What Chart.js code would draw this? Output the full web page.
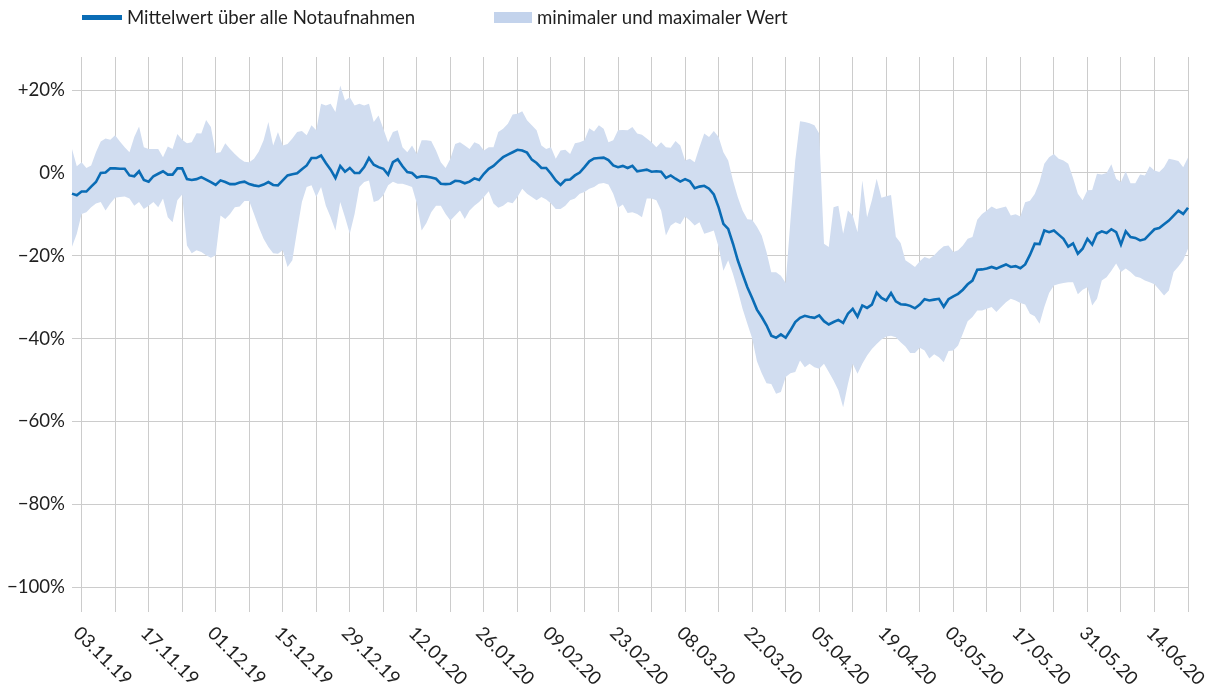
<!DOCTYPE html>
<html><head><meta charset="utf-8">
<script src="https://cdn.jsdelivr.net/npm/chart.js@4/dist/chart.umd.min.js"></script>
<style>html,body{margin:0;padding:0;background:#fff}#wrap{width:1212px;height:684px;position:relative}</style>
</head><body><div id="wrap"><canvas id="c" width="1212" height="684"></canvas></div>
<script>
// ---- data ----
const firstDay = new Date(2019, 10, 1); // 01.11.19
const dayCount = 234;                  // up to 21.06.20
const categories = [];
for (let i = 0; i < dayCount; i++) {
  const d = new Date(firstDay.getFullYear(), firstDay.getMonth(), firstDay.getDate() + i);
  categories.push(String(d.getDate()).padStart(2, '0') + '.' + String(d.getMonth() + 1).padStart(2, '0') + '.' + String(d.getFullYear()).slice(2));
}
const tickLabels = ['03.11.19','17.11.19','01.12.19','15.12.19','29.12.19','12.01.20','26.01.20','09.02.20','23.02.20','08.03.20','22.03.20','05.04.20','19.04.20','03.05.20','17.05.20','31.05.20','14.06.20'];
const yTicks = [20, 0, -20, -40, -60, -80, -100];

const meanValues = [
-5.0,-5.4,-4.5,-4.5,-3.3,-2.2,0,0.1,1.1,1.1,1.0,1.0,-0.6,-0.8,0.4,-1.7,-2.1,-0.8,-0.2,0.4,
-0.4,-0.4,1.1,1.1,-1.5,-1.7,-1.5,-1.0,-1.6,-2.2,-2.9,-1.8,-2.2,-2.7,-2.7,-2.3,-2.1,-2.7,
-3.0,-3.2,-2.8,-2.2,-2.9,-3.0,-1.8,-0.6,-0.3,-0.1,0.9,1.8,3.6,3.6,4.2,2.4,0.8,-1.2,1.7,0.3,
1.2,0,0,1.4,3.6,2.0,1.4,1.0,-0.4,2.6,3.3,1.6,0.2,0,-1.1,-0.8,-0.9,
-1.1,-1.4,-2.6,-2.7,-2.6,-1.9,-2.0,-2.5,-2.1,-1.3,-1.7,-0.2,1.0,1.7,2.8,3.8,4.4,5.0,5.6,5.4,
4.9,3.2,2.4,1.2,1.2,-0.2,-1.8,-2.9,-1.7,-1.6,-0.6,0.1,1.4,2.8,3.5,3.6,3.7,3.1,
1.8,1.4,1.7,1.2,1.7,0.4,0.6,0.8,0.3,0.4,0.3,-1.2,-0.6,-1.4,-2.1,-1.5,-2.0,-3.7,-3.3,-3.1,
-3.8,-5.2,-8.3,-12.3,-13.5,-17.1,-21.1,
-24.4,-27.6,-30.2,-33.0,-34.8,-36.8,-39.3,-39.8,-39.0,-39.8,-38.0,-36.0,-35.0,-34.5,-34.8,-35.0,
-34.4,-35.8,-36.6,-36.0,-35.5,-36.2,-34.0,-32.8,-34.7,-32.0,-32.6,-31.8,-28.9,-30.2,-30.8,-29.0,
-31.0,-31.7,
-31.8,-32.1,-32.7,-31.8,-30.5,-30.8,-30.6,-30.4,-32.3,-30.5,-29.8,-29.2,-28.2,-26.9,-26.0,-23.4,
-23.3,-23.1,-22.7,-23.1,-22.6,-22.1,-22.7,-22.5,
-23.0,-22.1,-19.8,-17.1,-17.2,-13.9,-14.3,-13.9,-14.9,-15.9,-17.8,-17.0,-19.5,-18.3,-15.9,-17.3,
-14.7,-14.1,-14.5,-13.6,-14.3,-17.3,-14.1,-15.5,-15.7,-16.3,-16.0,-14.8,-13.6,-13.3,-12.4,-11.5,
-10.3,-9.1,-9.9,-8.4
];

const maxValues = [
5.8,1.6,2.6,1.2,1.8,5.0,7.6,8.3,8.0,9.1,7.6,6.2,5.0,8.7,11.2,6.2,5.8,5.8,5.8,3.8,
6.4,5.8,9.4,8.0,7.2,7.4,9.6,9.5,12.8,11.1,4.8,5.0,7.2,5.8,4.6,3.5,2.7,2.6,
3.4,5.2,7.9,12.3,6.6,9.9,6.6,7.0,8.3,9.9,10.1,9.1,11.5,10.3,16.7,16.3,16.7,14.7,21.1,17.5,
18.3,16.3,16.7,16.3,16.7,12.3,13.9,10.7,7.4,9.9,10.3,6.2,5.0,6.6,4.6,7.9,7.9,
7.7,5.4,2.6,1.2,3.4,7.0,7.4,6.6,5.8,7.4,6.9,5.4,6.2,6.2,9.9,10.7,11.9,14.1,14.3,14.9,
12.7,11.5,10.3,6.6,5.8,6.2,3.4,5.4,5.6,4.6,7.2,7.4,7.9,10.8,10.0,11.5,10.7,7.4,
7.9,10.3,10.4,10.3,11.1,9.5,9.2,8.3,7.4,6.2,7.4,6.2,6.1,7.7,6.6,3.0,3.4,2.6,6.2,9.5,
8.7,10.1,8.7,5.0,3.0,-1.8,-5.8,
-9.1,-11.2,-11.3,-13.0,-15.1,-19.1,-24.0,-24.0,-24.8,-26.6,-11.5,3.0,12.5,12.3,12.0,11.5,
9.5,-17.1,-17.9,-8.3,-7.9,-14.7,-9.1,-10.3,-14.3,-1.8,-10.7,-6.6,-1.4,-6.0,-5.6,-5.3,
-15.4,-16.9,
-21.1,-21.9,-22.7,-21.3,-20.3,-20.7,-19.9,-18.7,-17.7,-17.5,-19.1,-18.7,-17.5,-15.9,-15.5,-11.3,
-9.9,-9.1,-8.1,-8.7,-8.4,-8.1,-10.3,-10.0,
-10.5,-7.1,-6.7,-5.1,-2.2,2.2,3.8,4.6,3.4,3.0,2.2,-1.2,-5.0,-6.6,-4.2,-4.1,
-0.2,-0.4,0,2.1,-1.4,-2.2,0.4,-2.5,-2.5,-0.4,-0.6,1.6,0.6,0.2,1.4,3.4,
3.2,2.9,1.4,3.7
];

const minValues = [
-17.8,-14.7,-9.9,-9.5,-8.3,-7.4,-7.0,-9.1,-7.4,-6.0,-5.8,-5.7,-6.2,-7.9,-7.0,-8.7,-7.9,-7.0,-8.3,-6.2,
-10.7,-11.9,-6.6,-5.2,-17.5,-19.4,-18.7,-19.1,-19.9,-20.5,-19.9,-10.3,-11.1,-9.9,-8.3,-8.1,-6.8,-6.8,
-9.9,-13.1,-15.9,-17.9,-19.4,-19.5,-18.7,-22.7,-21.1,-13.9,-7.0,-3.4,-3.0,-5.8,-3.4,-7.9,-10.7,-13.9,
-7.0,-10.7,-14.7,-9.9,-3.4,-2.2,-1.8,-7.0,-6.6,-5.4,-3.0,-2.1,-2.6,-2.6,-3.0,-3.4,-7.4,-13.9,-12.1,
-9.5,-7.9,-7.9,-9.9,-11.5,-10.3,-9.1,-11.1,-9.1,-7.9,-7.0,-5.8,-4.4,-7.4,-8.4,-7.9,-7.0,-7.3,-5.8,-3.8,
-5.0,-5.8,-6.6,-5.8,-6.4,-7.4,-8.7,-8.7,-7.9,-6.6,-6.2,-5.0,-4.6,-3.8,-3.4,-2.6,-2.4,-2.8,
-5.0,-8.4,-7.6,-9.7,-9.5,-9.9,-10.7,-6.2,-6.2,-6.6,-9.1,-15.1,-12.7,-11.9,-12.4,-10.5,-11.5,-12.7,
-11.9,-14.7,-14.3,-13.9,-17.9,-23.6,-21.1,-24.4,-28.4,
-32.8,-36.4,-39.9,-45.5,-48.4,-50.8,-51.0,-53.3,-52.9,-49.3,-48.4,-48.1,-45.3,-46.9,-46.1,-46.9,
-47.3,-46.1,-48.1,-50.1,-52.5,-56.6,-51.0,-46.1,-48.5,-46.1,-44.1,-42.5,-41.3,-40.2,-39.5,-39.3,
-39.7,-40.9,
-41.9,-43.5,-43.5,-42.2,-42.9,-44.8,-43.8,-44.5,-45.7,-43.0,-42.9,-41.7,-38.8,-35.8,-34.8,-33.2,
-33.2,-32.8,-32.4,-33.6,-32.4,-31.2,-30.4,-30.8,
-31.4,-31.8,-34.0,-34.6,-36.4,-32.4,-29.0,-27.2,-26.8,-26.6,-26.4,-26.4,-29.3,-28.2,-27.6,-32.0,
-30.4,-26.0,-25.2,-23.6,-21.9,-23.9,-23.1,-23.9,-25.0,-25.3,-26.0,-26.4,-26.9,-28.2,-29.6,-28.4,
-23.9,-22.6,-21.1,-18.3
];

const meanLabel = 'Mittelwert über alle Notaufnahmen';
const bandLabel = 'minimaler und maximaler Wert';

// ---- styles ----
const FONT = 'Lato, "Open Sans", "Noto Sans", sans-serif';
const FSIZE = 18.6;
const TEXT = '#1f1f1f';
const LINE = '#0a6cb5';
const BAND = '#d1ddf0';
const GRID = '#cccccc';

const fmtPct = v => v === 0 ? '0%' : (v > 0 ? '+' + v + '%' : '\u2212' + Math.abs(v) + '%');
const firstGrid = categories.indexOf('03.11.19');
const gridIdx = new Set(categories.map((c, i) => i).filter(i => i >= firstGrid && (i - firstGrid) % 7 === 0));

const overlay = {
  id: 'overlay',
  afterDraw(chart) {
    const c = chart.ctx, xs = chart.scales.x, area = chart.chartArea;
    c.save();
    c.fillStyle = TEXT;
    c.font = FSIZE + 'px ' + FONT;
    c.textAlign = 'left';
    c.textBaseline = 'middle';
    tickLabels.forEach(lbl => {
      const px = xs.getPixelForValue(categories.indexOf(lbl));
      c.save();
      c.translate(px - 5, area.bottom + 43);
      c.rotate(Math.PI / 4);
      c.fillText(lbl, 0, 0);
      c.restore();
    });
    // legend
    c.fillStyle = LINE;
    c.fillRect(82, 15, 40, 5);
    c.fillStyle = TEXT;
    c.fillText(meanLabel, 127, 18);
    c.fillStyle = '#c3d3ec';
    c.fillRect(494, 12, 38, 11);
    c.fillStyle = TEXT;
    c.fillText(bandLabel, 537, 18);
    c.restore();
  }
};

new Chart(document.getElementById('c'), {
  type: 'line',
  data: {
    labels: categories,
    datasets: [
      { label: meanLabel, data: meanValues, borderColor: LINE, borderWidth: 2.6, pointRadius: 0, fill: false, tension: 0, order: 0 },
      { label: bandLabel, data: maxValues, borderColor: 'transparent', borderWidth: 0, backgroundColor: BAND, pointRadius: 0, fill: '+1', tension: 0, order: 1 },
      { label: 'min', data: minValues, borderColor: 'transparent', borderWidth: 0, backgroundColor: BAND, pointRadius: 0, fill: false, tension: 0, order: 2 }
    ]
  },
  options: {
    responsive: false,
    animation: false,
    events: [],
    layout: { padding: { top: 57, right: 24, left: 0, bottom: 0 } },
    plugins: { legend: { display: false }, tooltip: { enabled: false } },
    scales: {
      x: {
        type: 'category',
        offset: false,
        border: { display: false },
        grid: {
          color: ctx => gridIdx.has(ctx.index) ? GRID : 'rgba(0,0,0,0)',
          lineWidth: 1,
          drawTicks: true,
          tickLength: 25
        },
        ticks: { display: false, autoSkip: false },
        afterFit: s => { s.height = 97; }
      },
      y: {
        min: -100,
        max: 28,
        border: { display: false },
        grid: { color: GRID, drawTicks: false, lineWidth: 1 },
        afterBuildTicks: s => { s.ticks = yTicks.map(v => ({ value: v })); },
        ticks: { padding: 7, color: TEXT, font: { family: FONT, size: FSIZE }, callback: fmtPct },
        afterFit: s => { s.width = 72; }
      }
    }
  },
  plugins: [overlay]
});
</script>
</body></html>
